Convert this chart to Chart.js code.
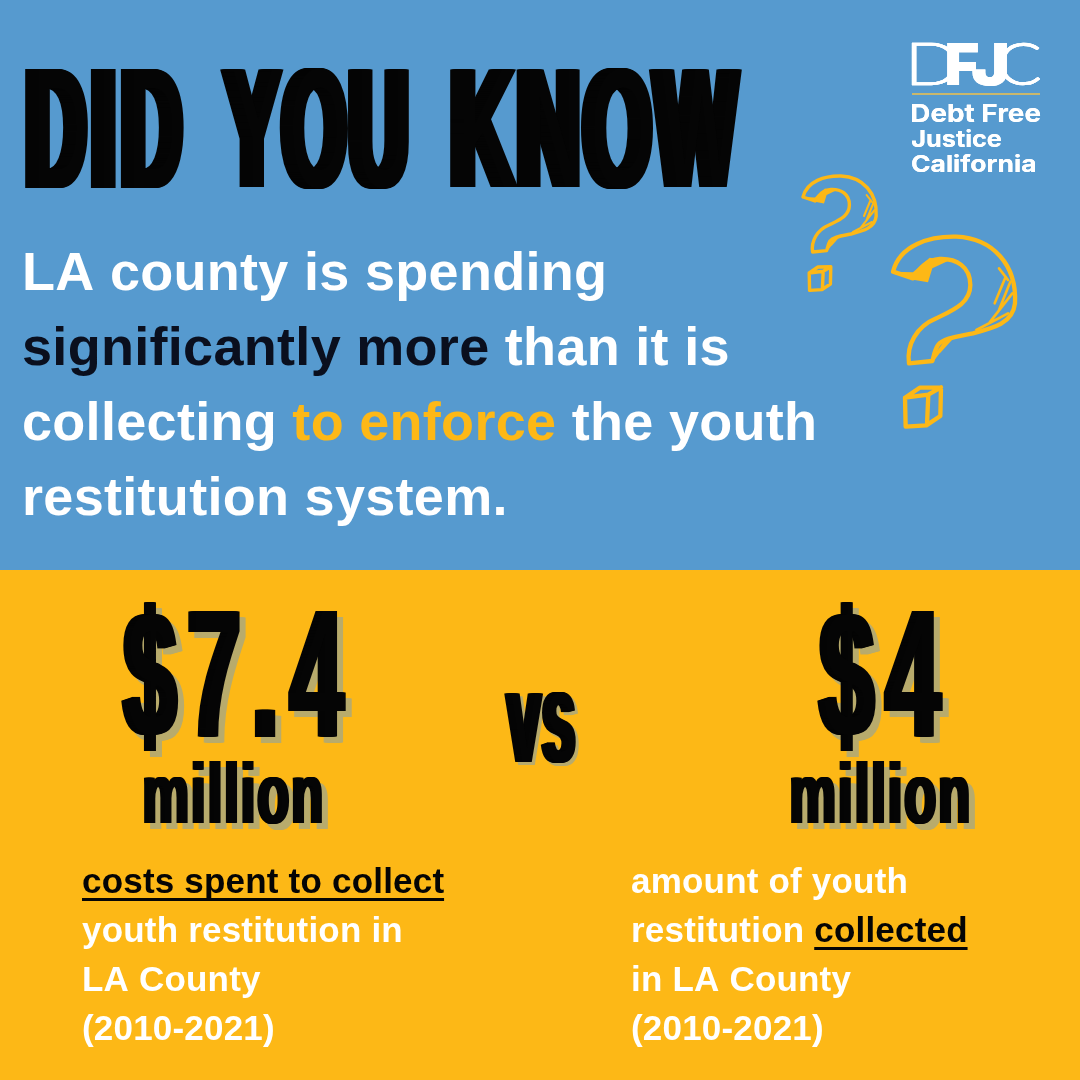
<!DOCTYPE html>
<html>
<head>
<meta charset="utf-8">
<style>
  html, body { margin: 0; padding: 0; background: #569acf; }
  canvas { display: block; }
</style>
<script src="https://cdn.jsdelivr.net/npm/chart.js@4/dist/chart.umd.min.js"></script>
</head>
<body>
<div style="width:1080px;height:1080px"><canvas id="infographic" width="1080" height="1080"></canvas></div>
<script>
// data
const categories = ["costs spent to collect", "collected"];
const millions = [7.4, 4];
const valueLabels = ["$7.4", "$4"];
const unitLabel = "million";

const titleWords = ["DID", "YOU", "KNOW"];
const leftCaption = ["youth restitution in", "LA County", "(2010-2021)"];
const rightCaption = ["in LA County", "(2010-2021)"];

// colours
const BLUE = "#569acf";
const AMBER = "#fdb816";
const SHADOW = "#b8ab6c";
const INK = "#050505";
const WHITE = "#ffffff";
const HEAVY = 'bold 200px "Liberation Sans"';

// stretch text so its ink fills a box. smear = extra width of the vertical stems in px
function fitText(ctx, text, font, x0, x1, top, base, color, o = {}) {
  const smear = o.smear || 0;
  ctx.save();
  ctx.font = font;
  ctx.letterSpacing = (o.ls || 0) + "px";
  ctx.textBaseline = "alphabetic";
  ctx.textAlign = "left";
  const m = ctx.measureText(text);
  const v = ctx.measureText(o.ref || text);
  const inkW = m.actualBoundingBoxLeft + m.actualBoundingBoxRight;
  const inkH = v.actualBoundingBoxAscent + v.actualBoundingBoxDescent;
  const sx = (x1 - x0 - smear) / inkW;
  const sy = (base - top) / inkH;
  ctx.fillStyle = color;
  const steps = Math.max(1, Math.ceil(smear));
  for (let i = 0; i <= steps; i++) {
    const dx = smear ? (smear * i) / steps : 0;
    ctx.save();
    ctx.translate(x0 + dx + m.actualBoundingBoxLeft * sx, base - v.actualBoundingBoxDescent * sy);
    ctx.scale(sx, sy);
    ctx.fillText(text, 0, 0);
    if (o.stroke) {
      ctx.strokeStyle = color;
      ctx.lineWidth = o.stroke / ((sx + sy) / 2);
      ctx.strokeText(text, 0, 0);
    }
    ctx.restore();
  }
  ctx.restore();
}

function shadowed(ctx, text, x0, x1, top, base, off, o) {
  fitText(ctx, text, HEAVY, x0 + off, x1 + off, top + off, base + off, SHADOW, o);
  fitText(ctx, text, HEAVY, x0, x1, top, base, INK, o);
}

// one line of body copy made of coloured runs
function drawRuns(ctx, x, y, runs, font, spacing) {
  ctx.font = font;
  ctx.letterSpacing = spacing + "px";
  ctx.textBaseline = "alphabetic";
  ctx.textAlign = "left";
  let cx = x;
  runs.forEach((r) => {
    const w = ctx.measureText(r.t).width;
    ctx.fillStyle = r.c;
    ctx.fillText(r.t, cx, y);
    if (r.u) {
      ctx.fillRect(cx, y + 5, w - spacing, 3);
    }
    cx += w;
  });
  ctx.letterSpacing = "0px";
}

// question mark, hand drawn look. units are about 3x page pixels
function questionMark(ctx, ox, oy, k, lw) {
  ctx.save();
  ctx.translate(ox, oy);
  ctx.scale(k, k);
  ctx.strokeStyle = AMBER;
  ctx.fillStyle = AMBER;
  ctx.lineCap = "round";
  ctx.lineJoin = "round";
  ctx.lineWidth = lw;

  ctx.beginPath();
  ctx.moveTo(0, 110);
  ctx.bezierCurveTo(20, 30, 110, 3, 190, 5);
  ctx.bezierCurveTo(300, 10, 372, 90, 366, 205);
  ctx.bezierCurveTo(360, 265, 300, 280, 240, 295);
  ctx.bezierCurveTo(190, 305, 150, 310, 135, 330);
  ctx.bezierCurveTo(122, 350, 122, 370, 118, 378);
  ctx.lineTo(48, 385);
  ctx.bezierCurveTo(40, 330, 70, 275, 130, 250);
  ctx.bezierCurveTo(180, 225, 232, 205, 232, 150);
  ctx.bezierCurveTo(232, 95, 190, 70, 140, 72);
  ctx.bezierCurveTo(100, 75, 80, 100, 60, 130);
  ctx.lineTo(0, 110);
  ctx.stroke();

  // shaded tip
  ctx.beginPath();
  ctx.moveTo(0, 110);
  ctx.lineTo(60, 134);
  ctx.lineTo(105, 142);
  ctx.lineTo(118, 100);
  ctx.lineTo(165, 78);
  ctx.lineTo(110, 68);
  ctx.lineTo(60, 112);
  ctx.closePath();
  ctx.fill();

  // hatching on the outside of the bow and on the tail
  ctx.lineWidth = lw * 0.6;
  ctx.beginPath();
  [[318, 100, 345, 135], [338, 125, 305, 205], [352, 140, 318, 225], [358, 175, 290, 262], [345, 235, 250, 285], [128, 360, 165, 310], [140, 350, 178, 308], [122, 372, 150, 335]].forEach((h) => {
    ctx.moveTo(h[0], h[1]);
    ctx.lineTo(h[2], h[3]);
  });
  ctx.stroke();
  ctx.restore();
}

function cube(ctx, ox, oy, k, lw) {
  ctx.save();
  ctx.translate(ox, oy);
  ctx.scale(k, k);
  ctx.strokeStyle = AMBER;
  ctx.lineCap = "round";
  ctx.lineJoin = "round";
  ctx.lineWidth = lw;
  ctx.beginPath();
  ctx.moveTo(6, 35);
  ctx.lineTo(50, 5);
  ctx.lineTo(114, 4);
  ctx.lineTo(112, 90);
  ctx.lineTo(70, 118);
  ctx.lineTo(8, 122);
  ctx.closePath();
  ctx.moveTo(6, 35);
  ctx.lineTo(76, 26);
  ctx.lineTo(114, 4);
  ctx.moveTo(76, 26);
  ctx.lineTo(72, 116);
  ctx.stroke();
  ctx.restore();
}

function drawLogo(ctx) {
  const thin = "300 100px Lato";
  const bold = "900 100px Inter";
  fitText(ctx, "D", thin, 912, 957, 42, 85, WHITE, { stroke: 0.6 });
  fitText(ctx, "C", thin, 1000, 1040, 42, 86, WHITE, { stroke: 0.6 });
  fitText(ctx, "F", bold, 947, 978, 43, 85, WHITE);
  fitText(ctx, "J", bold, 972, 1007, 43, 86, WHITE);
  ctx.fillStyle = "#c9b76c";
  ctx.fillRect(912, 93, 128, 2);
  const f = "bold 100px Inter";
  fitText(ctx, "Debt Free", f, 912, 1040, 104, 122, WHITE);
  fitText(ctx, "Justice", f, 912, 1001, 129, 147, WHITE);
  fitText(ctx, "California", f, 912, 1035, 154, 172, WHITE);
}

// everything that is not a bar goes here
const posterPlugin = {
  id: "poster",
  beforeDraw(chart) {
    const ctx = chart.ctx;
    ctx.fillStyle = BLUE;
    ctx.fillRect(0, 0, 1080, 570);
    ctx.fillStyle = AMBER;
    ctx.fillRect(0, 570, 1080, 510);
  },
  afterDraw(chart) {
    const ctx = chart.ctx;
    const xs = chart.scales.x;

    // headline
    fitText(ctx, titleWords[0], HEAVY, 25, 184, 69, 188, INK, { smear: 13, ref: "D", ls: 18 });
    fitText(ctx, titleWords[1], HEAVY, 220, 409, 68, 189, INK, { smear: 13, ref: "O", ls: 12 });
    fitText(ctx, titleWords[2], HEAVY, 450, 742, 68, 189, INK, { smear: 13, ref: "O", ls: 12 });

    // intro copy
    const body = 'bold 54px "Liberation Sans"';
    drawRuns(ctx, 22, 290, [{ t: "LA county is spending", c: WHITE }], body, 0.3);
    drawRuns(ctx, 22, 365, [{ t: "significantly more", c: "#0a0f1e" }, { t: " than it is", c: WHITE }], body, 0.3);
    drawRuns(ctx, 22, 440, [{ t: "collecting ", c: WHITE }, { t: "to enforce", c: AMBER }, { t: " the youth", c: WHITE }], body, 0.3);
    drawRuns(ctx, 22, 515, [{ t: "restitution system.", c: WHITE }], body, 0.3);

    drawLogo(ctx);
    questionMark(ctx, 893, 235, 1 / 3, 13);
    cube(ctx, 903, 386, 1 / 3, 13);
    questionMark(ctx, 803, 175, 0.2, 17);
    cube(ctx, 808, 266, 0.2, 17);

    // the two amounts, centred on the category scale
    const c0 = xs.getPixelForValue(0);
    const c1 = xs.getPixelForValue(1);
    const big = { smear: 7, ref: "4", ls: 25 };
    const small = { smear: 4, ls: 8 };
    shadowed(ctx, valueLabels[0], c0 - 112, c0 + 113, 612, 737, 6, big);
    shadowed(ctx, valueLabels[1], c1 - 63, c1 + 63, 612, 737, 6, big);
    shadowed(ctx, unitLabel, c0 - 89, c0 + 89, 762, 824, 6, small);
    shadowed(ctx, unitLabel, c1 - 89, c1 + 89, 762, 824, 6, small);
    shadowed(ctx, "vs", 504, 576, 692, 763, 3, { smear: 7, ls: 8 });

    // captions
    const cap = 'bold 35px "Liberation Sans"';
    drawRuns(ctx, 82, 893, [{ t: categories[0], c: INK, u: true }], cap, 0.2);
    leftCaption.forEach((line, i) => drawRuns(ctx, 82, 942 + i * 49, [{ t: line, c: WHITE }], cap, 0.2));
    drawRuns(ctx, 631, 893, [{ t: "amount of youth", c: WHITE }], cap, 0.2);
    drawRuns(ctx, 631, 942, [{ t: "restitution ", c: WHITE }, { t: categories[1], c: INK, u: true }], cap, 0.2);
    rightCaption.forEach((line, i) => drawRuns(ctx, 631, 991 + i * 49, [{ t: line, c: WHITE }], cap, 0.2));
  },
};

new Chart(document.getElementById("infographic").getContext("2d"), {
  type: "bar",
  data: {
    labels: categories,
    datasets: [{ label: "Millions of dollars", data: millions, backgroundColor: "transparent" }],
  },
  options: {
    responsive: false,
    animation: false,
    devicePixelRatio: 1,
    layout: { padding: { left: 233, right: 200, top: 0, bottom: 0 } },
    plugins: { legend: { display: false }, tooltip: { enabled: false } },
    scales: {
      x: { display: false, offset: false },
      y: { display: false, min: 0, max: 8 },
    },
  },
  plugins: [posterPlugin],
});
</script>
</body>
</html>
